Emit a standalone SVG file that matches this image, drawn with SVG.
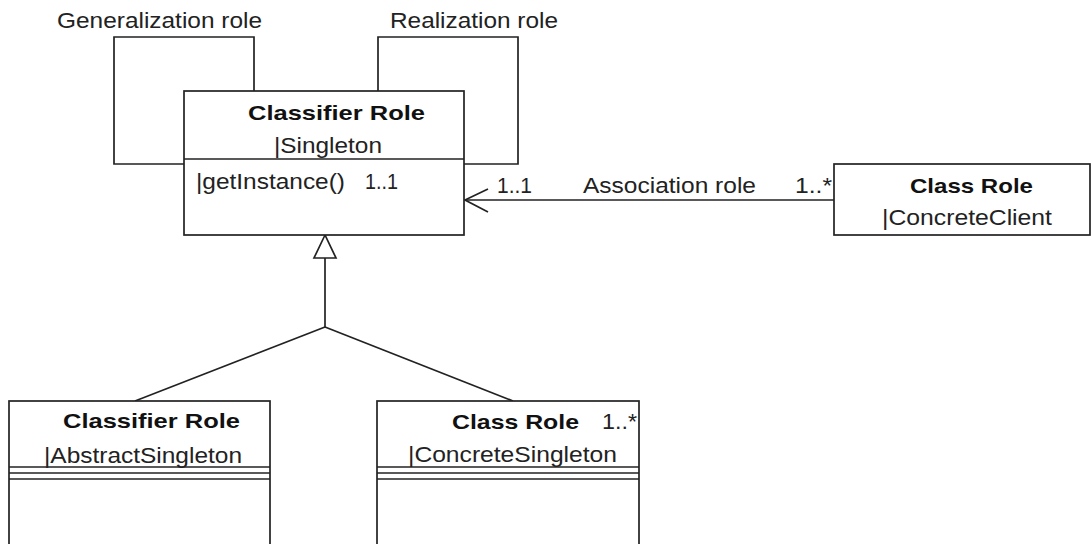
<svg xmlns="http://www.w3.org/2000/svg" width="1092" height="544" viewBox="0 0 1092 544">
  <style>
    .box { fill: #ffffff; stroke: #222222; stroke-width: 1.7; }
    .ln { fill: none; stroke: #222222; stroke-width: 1.7; }
    .t { font-family: "Liberation Sans", Arial, sans-serif; font-size: 21.5px; fill: #222222; }
    .b { font-family: "Liberation Sans", Arial, sans-serif; font-size: 21px; font-weight: bold; fill: #111111; }
  </style>
  <rect x="0" y="0" width="1092" height="544" fill="#ffffff"/>

  <!-- connectors -->
  <g id="connectors">
    <!-- self-loop: generalization -->
    <path class="ln" d="M254,91 V37 H114 V164 H184"/>
    <text class="t" x="57" y="28" textLength="205" lengthAdjust="spacingAndGlyphs">Generalization role</text>
    <!-- self-loop: realization -->
    <path class="ln" d="M378,91 V37 H518 V164 H464"/>
    <text class="t" x="390" y="28" textLength="168" lengthAdjust="spacingAndGlyphs">Realization role</text>

    <!-- association to ConcreteClient -->
    <line class="ln" x1="465" y1="200" x2="834" y2="200"/>
    <path class="ln" d="M488,189 L465,200 L488,212"/>
    <text class="t" x="497" y="193" textLength="35" lengthAdjust="spacingAndGlyphs">1..1</text>
    <text class="t" x="583" y="193" textLength="173" lengthAdjust="spacingAndGlyphs">Association role</text>
    <text class="t" x="795" y="193" textLength="37" lengthAdjust="spacingAndGlyphs">1..*</text>

    <!-- generalization tree -->
    <polygon class="box" points="325,235 314,258 336,258"/>
    <line class="ln" x1="325" y1="258" x2="325" y2="327"/>
    <line class="ln" x1="325" y1="327" x2="135" y2="401"/>
    <line class="ln" x1="325" y1="327" x2="513" y2="401"/>
  </g>

  <!-- Singleton classifier role -->
  <g id="singleton">
    <rect class="box" x="184" y="91" width="280" height="144"/>
    <line class="ln" x1="184" y1="159" x2="464" y2="159"/>
    <text class="b" x="248" y="120" textLength="177" lengthAdjust="spacingAndGlyphs">Classifier Role</text>
    <text class="t" x="274" y="153" textLength="108" lengthAdjust="spacingAndGlyphs">|Singleton</text>
    <text class="t" x="196" y="189" textLength="149" lengthAdjust="spacingAndGlyphs">|getInstance()</text>
    <text class="t" x="365" y="189" textLength="33" lengthAdjust="spacingAndGlyphs">1..1</text>
  </g>

  <!-- ConcreteClient class role -->
  <g id="concrete-client">
    <rect class="box" x="834" y="164" width="256" height="71"/>
    <text class="b" x="910" y="193" textLength="123" lengthAdjust="spacingAndGlyphs">Class Role</text>
    <text class="t" x="882" y="225" textLength="170" lengthAdjust="spacingAndGlyphs">|ConcreteClient</text>
  </g>

  <!-- AbstractSingleton classifier role -->
  <g id="abstract-singleton">
    <rect class="box" x="9" y="401" width="261" height="150"/>
    <line class="ln" x1="9" y1="467" x2="270" y2="467"/>
    <line class="ln" x1="9" y1="473" x2="270" y2="473"/>
    <line class="ln" x1="9" y1="479" x2="270" y2="479"/>
    <text class="b" x="63" y="428" textLength="177" lengthAdjust="spacingAndGlyphs">Classifier Role</text>
    <text class="t" x="44" y="463" textLength="198" lengthAdjust="spacingAndGlyphs">|AbstractSingleton</text>
  </g>

  <!-- ConcreteSingleton class role -->
  <g id="concrete-singleton">
    <rect class="box" x="377" y="401" width="262" height="150"/>
    <line class="ln" x1="377" y1="467" x2="639" y2="467"/>
    <line class="ln" x1="377" y1="473" x2="639" y2="473"/>
    <line class="ln" x1="377" y1="479" x2="639" y2="479"/>
    <text class="b" x="452" y="429" textLength="127" lengthAdjust="spacingAndGlyphs">Class Role</text>
    <text class="t" x="602" y="429" textLength="35" lengthAdjust="spacingAndGlyphs">1..*</text>
    <text class="t" x="408" y="462" textLength="209" lengthAdjust="spacingAndGlyphs">|ConcreteSingleton</text>
  </g>
</svg>
